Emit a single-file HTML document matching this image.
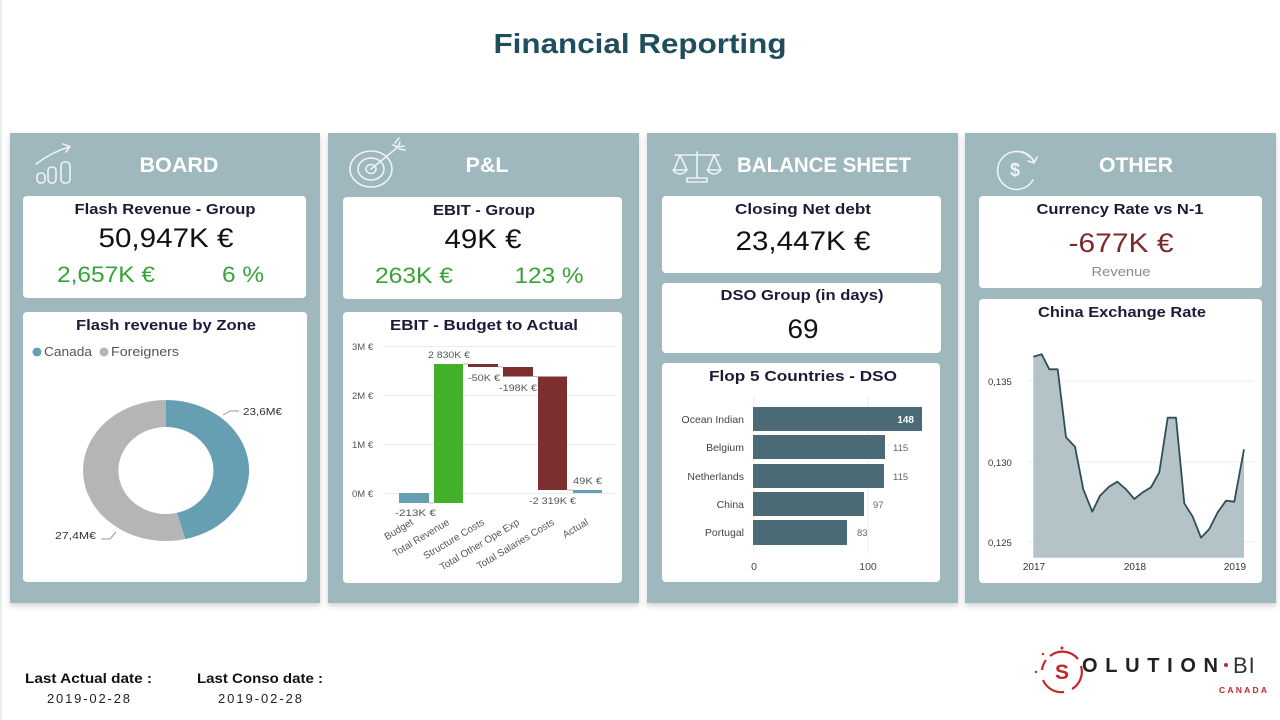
<!DOCTYPE html>
<html><head><meta charset="utf-8"><style>
html,body{margin:0;padding:0;background:#fff;}
svg{display:block;}
text{font-family:"Liberation Sans",Arial,sans-serif;}
</style></head><body>
<svg width="1280" height="720" viewBox="0 0 1280 720" xmlns="http://www.w3.org/2000/svg">
<defs>
<filter id="sh" x="-5%" y="-5%" width="110%" height="115%"><feDropShadow dx="0" dy="3" stdDeviation="3" flood-color="#000" flood-opacity="0.18"/></filter>
</defs>
<rect width="1280" height="720" fill="#fff"/>
<rect x="0" y="0" width="2" height="720" fill="#ececec"/>
<text x="640" y="53" text-anchor="middle" font-size="28" font-weight="bold" fill="#1f4d5c" textLength="293" lengthAdjust="spacingAndGlyphs">Financial Reporting</text>

<!-- panels -->
<g fill="#9eb8be" filter="url(#sh)">
<rect x="10" y="133" width="310" height="470"/>
<rect x="328" y="133" width="311" height="470"/>
<rect x="647" y="133" width="311" height="470"/>
<rect x="965" y="133" width="311" height="470"/>
</g>

<!-- headers -->
<g fill="#fff" font-weight="bold" font-size="21" text-anchor="middle">
<text x="179" y="172" textLength="79" lengthAdjust="spacingAndGlyphs">BOARD</text>
<text x="487" y="172" textLength="43" lengthAdjust="spacingAndGlyphs">P&amp;L</text>
<text x="824" y="172" textLength="174" lengthAdjust="spacingAndGlyphs">BALANCE SHEET</text>
<text x="1136" y="172" textLength="74" lengthAdjust="spacingAndGlyphs">OTHER</text>
</g>

<!-- icons -->
<g fill="none" stroke="#eef3f4" stroke-width="1.6" stroke-linecap="round" stroke-linejoin="round">
<rect x="37" y="173" width="8" height="10" rx="3.5"/>
<rect x="48" y="167" width="8" height="16" rx="3.5"/>
<rect x="61" y="162" width="9" height="21" rx="3.5"/>
<path d="M36,164 Q52,152 69,147"/>
<path d="M63,144 L70,146.5 L66,152"/>
<ellipse cx="371" cy="169" rx="21" ry="18"/>
<ellipse cx="371" cy="169" rx="13" ry="11"/>
<ellipse cx="371" cy="169" rx="5" ry="4.5"/>
<path d="M371,169 L398,147"/>
<path d="M393,145 L398,147 L400,142 M398,147 L404,146 M395,143 L399,138 M399,149 L405,150"/>
<path d="M697,152 L697,178 M687,182 L707,182 L707,178 L687,178 Z M675,155 L719,155"/>
<path d="M680,155 L674,170 M680,155 L687,170 M673,170 Q680,178 687,170 Z"/>
<path d="M714,155 L708,170 M714,155 L721,170 M707,170 Q714,178 721,170 Z"/>
<path d="M1030,157 A19,19 0 1 0 1033,180"/>
<path d="M1023,152 Q1031,155 1034,162 M1028,161 L1034,163 L1037,157"/>
</g>
<text x="1015" y="176" text-anchor="middle" font-size="18" font-weight="bold" fill="#eef3f4">$</text>

<!-- cards -->
<g fill="#fff">
<rect x="23" y="196" width="283" height="102" rx="4"/>
<rect x="23" y="312" width="284" height="270" rx="4"/>
<rect x="343" y="197" width="279" height="102" rx="4"/>
<rect x="343" y="312" width="279" height="271" rx="4"/>
<rect x="662" y="196" width="279" height="77" rx="4"/>
<rect x="662" y="283" width="279" height="70" rx="4"/>
<rect x="662" y="363" width="278" height="219" rx="4"/>
<rect x="979" y="196" width="283" height="92" rx="4"/>
<rect x="979" y="299" width="283" height="284" rx="4"/>
</g>

<!-- card titles -->
<g fill="#1b1c38" font-weight="bold" font-size="15" text-anchor="middle">
<text x="165" y="214" textLength="181" lengthAdjust="spacingAndGlyphs">Flash Revenue - Group</text>
<text x="484" y="215" textLength="102" lengthAdjust="spacingAndGlyphs">EBIT - Group</text>
<text x="803" y="214" textLength="136" lengthAdjust="spacingAndGlyphs">Closing Net debt</text>
<text x="802" y="300" textLength="163" lengthAdjust="spacingAndGlyphs">DSO Group (in days)</text>
<text x="1120" y="214" textLength="167" lengthAdjust="spacingAndGlyphs">Currency Rate vs N-1</text>
<text x="166" y="330" textLength="180" lengthAdjust="spacingAndGlyphs">Flash revenue by Zone</text>
<text x="484" y="330" textLength="188" lengthAdjust="spacingAndGlyphs">EBIT - Budget to Actual</text>
<text x="803" y="381" textLength="188" lengthAdjust="spacingAndGlyphs">Flop 5 Countries  - DSO</text>
<text x="1122" y="317" textLength="168" lengthAdjust="spacingAndGlyphs">China Exchange Rate</text>
</g>

<!-- KPI values -->
<g font-size="27" text-anchor="middle" fill="#111">
<text x="166" y="247" textLength="135" lengthAdjust="spacingAndGlyphs">50,947K €</text>
<text x="483" y="248" textLength="77" lengthAdjust="spacingAndGlyphs">49K €</text>
<text x="803" y="250" textLength="135" lengthAdjust="spacingAndGlyphs">23,447K €</text>
<text x="803" y="338" textLength="31" lengthAdjust="spacingAndGlyphs">69</text>
<text x="1121" y="252" fill="#7b2a2a" textLength="105" lengthAdjust="spacingAndGlyphs">-677K €</text>
</g>
<g font-size="22" text-anchor="middle" fill="#38a338">
<text x="106" y="282" textLength="98" lengthAdjust="spacingAndGlyphs">2,657K €</text>
<text x="243" y="282" textLength="42" lengthAdjust="spacingAndGlyphs">6 %</text>
<text x="414" y="283" textLength="78" lengthAdjust="spacingAndGlyphs">263K €</text>
<text x="549" y="283" textLength="69" lengthAdjust="spacingAndGlyphs">123 %</text>
</g>
<text x="1121" y="276" text-anchor="middle" font-size="13" fill="#8a8a8a" textLength="59" lengthAdjust="spacingAndGlyphs">Revenue</text>

<!-- Donut -->
<circle cx="37" cy="352" r="4.5" fill="#669fb2"/>
<text x="44" y="356" font-size="13" fill="#555" textLength="48" lengthAdjust="spacingAndGlyphs">Canada</text>
<circle cx="104" cy="352" r="4.5" fill="#b5b5b5"/>
<text x="111" y="356" font-size="13" fill="#555" textLength="68" lengthAdjust="spacingAndGlyphs">Foreigners</text>
<path d="M166,400 A83,70.5 0 0 1 185.2,539.1 L177,512.8 A47.5,43.5 0 0 0 166,427 Z" fill="#669fb2"/>
<path d="M185.2,539.1 A83,70.5 0 1 1 166,400 L166,427 A47.5,43.5 0 1 0 177,512.8 Z" fill="#b5b5b5"/>
<path d="M223,415 L230,411 L239,411" fill="none" stroke="#999" stroke-width="1"/>
<text x="243" y="415" font-size="10.5" fill="#333" textLength="39" lengthAdjust="spacingAndGlyphs">23,6M€</text>
<path d="M101,539 L110,539 L116,532" fill="none" stroke="#999" stroke-width="1"/>
<text x="55" y="539" font-size="10.5" fill="#333" textLength="41" lengthAdjust="spacingAndGlyphs">27,4M€</text>

<!-- Waterfall -->
<g stroke="#ececec" stroke-width="1">
<line x1="383" y1="346.5" x2="616" y2="346.5"/>
<line x1="383" y1="395.5" x2="616" y2="395.5"/>
<line x1="383" y1="444.5" x2="616" y2="444.5"/>
<line x1="383" y1="493.5" x2="616" y2="493.5"/>
</g>
<g font-size="9.5" fill="#555">
<text x="352" y="350">3M €</text>
<text x="352" y="399">2M €</text>
<text x="352" y="448">1M €</text>
<text x="352" y="497">0M €</text>
</g>
<g stroke="#bbb" stroke-width="1">
<line x1="429" y1="503" x2="434" y2="503"/>
<line x1="463" y1="364" x2="468" y2="364"/>
<line x1="498" y1="367" x2="503" y2="367"/>
<line x1="533" y1="376.5" x2="538" y2="376.5"/>
<line x1="567" y1="490" x2="573" y2="490"/>
</g>
<rect x="399" y="493" width="30" height="10" fill="#669fb2"/>
<rect x="434" y="364" width="29" height="139" fill="#43b02a"/>
<rect x="468" y="364" width="30" height="3" fill="#7d2f2f"/>
<rect x="503" y="367" width="30" height="9.5" fill="#7d2f2f"/>
<rect x="538" y="376.5" width="29" height="113.5" fill="#7d2f2f"/>
<rect x="573" y="490" width="29" height="3" fill="#669fb2"/>
<g font-size="9.5" fill="#555">
<text x="428" y="358" textLength="42" lengthAdjust="spacingAndGlyphs">2 830K €</text>
<text x="468" y="381" textLength="32" lengthAdjust="spacingAndGlyphs">-50K €</text>
<text x="499" y="391" textLength="38" lengthAdjust="spacingAndGlyphs">-198K €</text>
<text x="529" y="504" textLength="47" lengthAdjust="spacingAndGlyphs">-2 319K €</text>
<text x="573" y="484" textLength="29" lengthAdjust="spacingAndGlyphs">49K €</text>
<text x="395" y="516" textLength="41" lengthAdjust="spacingAndGlyphs">-213K €</text>
</g>
<g font-size="10" fill="#555" text-anchor="end">
<text x="414" y="524" transform="rotate(-31 414 524)">Budget</text>
<text x="450" y="524" transform="rotate(-31 450 524)">Total Revenue</text>
<text x="485" y="524" transform="rotate(-31 485 524)">Structure Costs</text>
<text x="520" y="524" transform="rotate(-31 520 524)">Total Other Ope Exp</text>
<text x="555" y="524" transform="rotate(-31 555 524)">Total Salaries Costs</text>
<text x="589" y="524" transform="rotate(-31 589 524)">Actual</text>
</g>

<!-- Flop 5 bar -->
<g stroke="#ececec" stroke-width="1">
<line x1="754" y1="395" x2="754" y2="553"/>
<line x1="868" y1="395" x2="868" y2="553"/>
</g>
<g fill="#4a6a76">
<rect x="753" y="407" width="169" height="24"/>
<rect x="753" y="435" width="132" height="24"/>
<rect x="753" y="464" width="131" height="24"/>
<rect x="753" y="492" width="111" height="24"/>
<rect x="753" y="520" width="94" height="25"/>
</g>
<g font-size="10.5" fill="#444" text-anchor="end">
<text x="744" y="423">Ocean Indian</text>
<text x="744" y="451">Belgium</text>
<text x="744" y="480">Netherlands</text>
<text x="744" y="508">China</text>
<text x="744" y="536">Portugal</text>
</g>
<text x="914" y="423" font-size="10" font-weight="bold" fill="#fff" text-anchor="end">148</text>
<g font-size="9.5" fill="#666">
<text x="893" y="451">115</text>
<text x="893" y="480">115</text>
<text x="873" y="508">97</text>
<text x="857" y="536">83</text>
</g>
<g font-size="10.5" fill="#444" text-anchor="middle">
<text x="754" y="570">0</text>
<text x="868" y="570">100</text>
</g>

<!-- China Exchange Rate -->
<g stroke="#ececec" stroke-width="1">
<line x1="1028" y1="381" x2="1255" y2="381"/>
<line x1="1028" y1="462" x2="1255" y2="462"/>
<line x1="1028" y1="542" x2="1255" y2="542"/>
</g>
<g font-size="9.5" fill="#333">
<text x="988" y="385">0,135</text>
<text x="988" y="466">0,130</text>
<text x="988" y="546">0,125</text>
</g>
<path d="M1033.3,557.7 L1033.3,356.7 L1041.7,354.3 L1049.3,369.3 L1057.7,369.3 L1066,437.3 L1075,446.7 L1083.3,489.3 L1092.3,511.7 L1100,495.7 L1109,486.7 L1117.3,481.7 L1126,489.3 L1134.3,499 L1142.7,492.3 L1151,487.3 L1159.3,472.3 L1167.7,417.7 L1176,417.7 L1184.3,503.3 L1192.7,516.7 L1201,537.7 L1209.3,529 L1217.7,512.3 L1226,500.7 L1234.3,501.7 L1244,449.3 L1244,557.7 Z" fill="#b4c3c8"/>
<path d="M1033.3,356.7 L1041.7,354.3 L1049.3,369.3 L1057.7,369.3 L1066,437.3 L1075,446.7 L1083.3,489.3 L1092.3,511.7 L1100,495.7 L1109,486.7 L1117.3,481.7 L1126,489.3 L1134.3,499 L1142.7,492.3 L1151,487.3 L1159.3,472.3 L1167.7,417.7 L1176,417.7 L1184.3,503.3 L1192.7,516.7 L1201,537.7 L1209.3,529 L1217.7,512.3 L1226,500.7 L1234.3,501.7 L1244,449.3" fill="none" stroke="#2f4f56" stroke-width="1.8" stroke-linejoin="round"/>
<g font-size="10" fill="#333" text-anchor="middle">
<text x="1034" y="570">2017</text>
<text x="1135" y="570">2018</text>
<text x="1235" y="570">2019</text>
</g>

<!-- footer -->
<g font-size="14" font-weight="bold" fill="#111">
<text x="25" y="683" textLength="127" lengthAdjust="spacingAndGlyphs">Last Actual date :</text>
<text x="197" y="683" textLength="126" lengthAdjust="spacingAndGlyphs">Last Conso date :</text>
</g>
<g font-size="13" fill="#222">
<text x="47" y="703" textLength="83" lengthAdjust="spacing">2019-02-28</text>
<text x="218" y="703" textLength="84" lengthAdjust="spacing">2019-02-28</text>
</g>

<!-- logo -->
<g fill="none" stroke="#c1272d" stroke-width="2.2">
<path d="M1050,656 A20,20 0 0 1 1078,659"/>
<path d="M1081,666 A20,20 0 0 1 1072,689"/>
<path d="M1064,692 A20,20 0 0 1 1043,680"/>
<path d="M1042,670 A20,20 0 0 1 1046,660"/>
</g>
<g fill="#c1272d">
<circle cx="1062" cy="648" r="1.5"/>
<circle cx="1043" cy="654" r="1.2"/>
<circle cx="1036" cy="672" r="1.2"/>
<circle cx="1226" cy="665" r="2"/>
</g>
<text x="1062" y="679" text-anchor="middle" font-size="21" font-weight="bold" fill="#c1272d">S</text>
<text x="1082" y="672" font-size="20" font-weight="bold" fill="#222" textLength="136" lengthAdjust="spacing">OLUTION</text>
<text x="1233" y="673" font-size="22" fill="#333" letter-spacing="1">BI</text>
<text x="1219" y="693" font-size="8.5" font-weight="bold" fill="#c1272d" textLength="48" lengthAdjust="spacing">CANADA</text>
</svg>
</body></html>
